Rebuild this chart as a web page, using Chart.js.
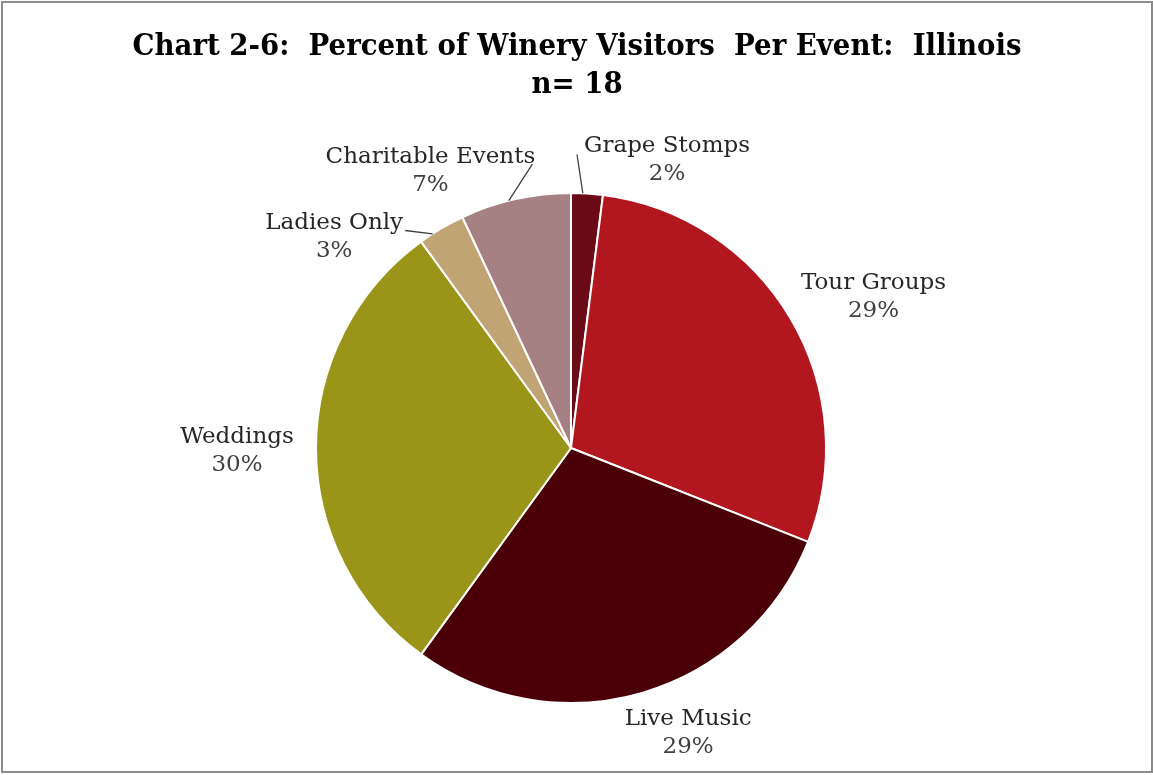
<!DOCTYPE html>
<html>
<head>
<meta charset="utf-8">
<script src="https://cdn.jsdelivr.net/npm/chart.js@4.4.1/dist/chart.umd.min.js"></script>
<style>
  html, body { margin: 0; padding: 0; background: #ffffff; }
  canvas { display: block; }
</style>
</head>
<body>
<canvas id="chart" width="1153" height="775"></canvas>
<script>
// Event categories and share of winery visitors (percent)
const categories = ['Grape Stomps', 'Tour Groups', 'Live Music', 'Weddings', 'Ladies Only', 'Charitable Events'];
const percents = [2, 29, 29, 30, 3, 7];
const sliceColors = ['#6C0A17', '#B2171F', '#4A0006', '#9A9519', '#C0A473', '#A68184'];

const titleLines = ['Chart 2-6:  Percent of Winery Visitors  Per Event:  Illinois', 'n= 18'];

// Label placement relative to each slice's outer mid-point (px)
const labelOffsets = [[80, -33], [83, -21], [46, 40], [-79, 3], [-107, 9], [-85, -28]];
// Leader lines: [fraction along the slice arc, end dx, end dy relative to label centre]
const leaders = [[0.37, -90, -6], null, null, null, [0.29, 71, -7], [0.44, 102, -7]];

const LABEL_FONT = '23px "DejaVu Serif"';
const LINE_H = 28;

const frameAndTitle = {
  id: 'frameAndTitle',
  afterDraw(chart) {
    const ctx = chart.ctx;
    ctx.save();
    // outer frame
    ctx.strokeStyle = '#8c8c8c';
    ctx.lineWidth = 2;
    ctx.strokeRect(2, 2, 1150, 770);
    // two-line bold serif title
    ctx.fillStyle = '#000000';
    ctx.textAlign = 'center';
    ctx.textBaseline = 'alphabetic';
    ctx.font = 'bold 29px "DejaVu Serif"';
    const w = ctx.measureText(titleLines[0]).width;
    const sx = 889 / w;
    const baselines = [55, 93];
    titleLines.forEach((t, i) => {
      ctx.save();
      ctx.translate(577, baselines[i]);
      ctx.scale(sx, 1);
      ctx.fillText(t, 0, 0);
      ctx.restore();
    });
    ctx.restore();
  }
};

const sliceLabels = {
  id: 'sliceLabels',
  afterDatasetsDraw(chart) {
    const ctx = chart.ctx;
    const meta = chart.getDatasetMeta(0);
    ctx.save();
    ctx.font = LABEL_FONT;
    ctx.textAlign = 'center';
    ctx.textBaseline = 'middle';
    meta.data.forEach((arc, i) => {
      const p = arc.getProps(['x', 'y', 'startAngle', 'endAngle', 'outerRadius'], true);
      const mid = (p.startAngle + p.endAngle) / 2;
      const ox = p.x + Math.cos(mid) * p.outerRadius;
      const oy = p.y + Math.sin(mid) * p.outerRadius;
      const cx = ox + labelOffsets[i][0];
      const cy = oy + labelOffsets[i][1];
      const ld = leaders[i];
      if (ld) {
        const a = p.startAngle + (p.endAngle - p.startAngle) * ld[0];
        ctx.strokeStyle = '#404040';
        ctx.lineWidth = 1.3;
        ctx.beginPath();
        ctx.moveTo(p.x + Math.cos(a) * p.outerRadius, p.y + Math.sin(a) * p.outerRadius);
        ctx.lineTo(cx + ld[1], cy + ld[2]);
        ctx.stroke();
      }
      ctx.fillStyle = '#262626';
      ctx.fillText(categories[i], cx, cy - LINE_H / 2);
      ctx.fillStyle = '#404040';
      ctx.fillText(percents[i] + '%', cx, cy + LINE_H / 2);
    });
    ctx.restore();
  }
};

new Chart(document.getElementById('chart'), {
  type: 'pie',
  data: {
    labels: categories,
    datasets: [{
      data: percents,
      backgroundColor: sliceColors,
      borderColor: '#ffffff',
      borderWidth: 2
    }]
  },
  options: {
    responsive: false,
    animation: false,
    events: [],
    layout: { padding: { top: 192, bottom: 71, left: 200, right: 211 } },
    plugins: {
      legend: { display: false },
      tooltip: { enabled: false },
      title: { display: false }
    }
  },
  plugins: [frameAndTitle, sliceLabels]
});
</script>
</body>
</html>
